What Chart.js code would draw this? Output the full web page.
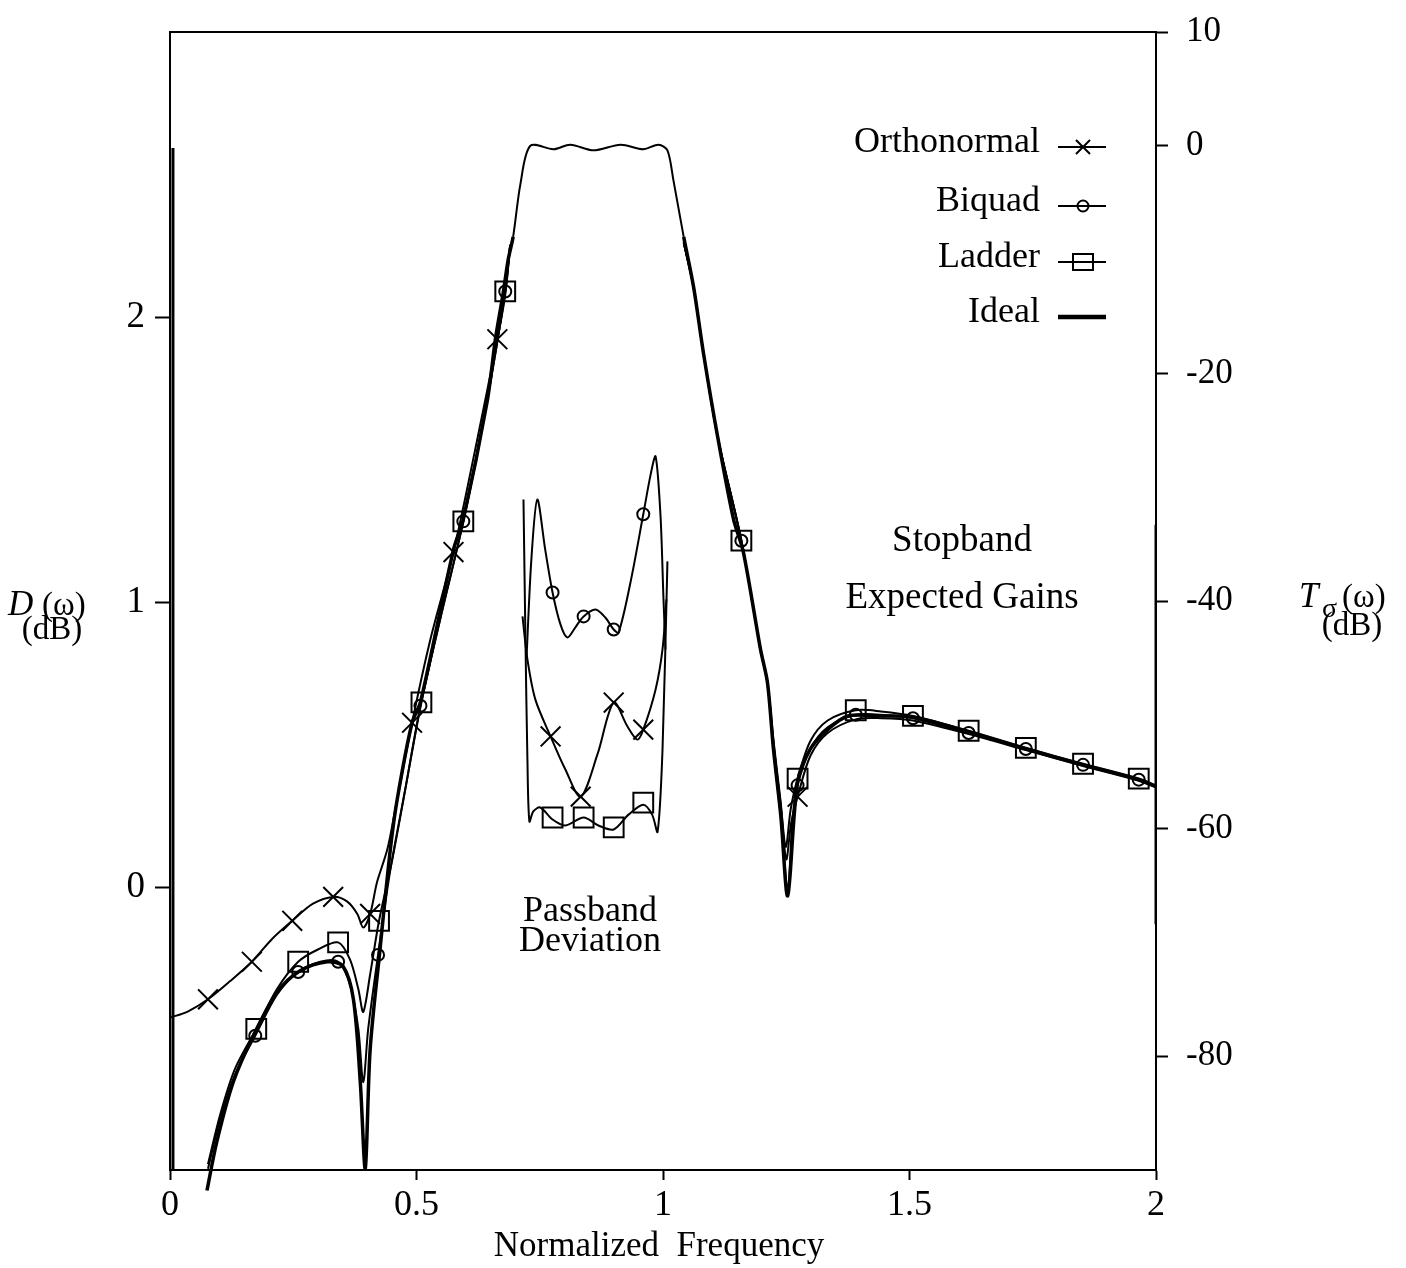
<!DOCTYPE html>
<html>
<head>
<meta charset="utf-8">
<title>Stopband Expected Gains / Passband Deviation</title>
<script src="https://cdn.jsdelivr.net/npm/chart.js@4/dist/chart.umd.min.js"></script>
<style>
  html, body { margin: 0; padding: 0; background: #fff; }
  #wrap { width: 1406px; height: 1268px; }
</style>
</head>
<body>
<div id="wrap"><canvas id="chart" width="1406" height="1268"></canvas></div>
<script>
// ---- data ----
// x: normalized frequency, stopband curves in dB on the right axis T(w)

const idealFreq = [0.075, 0.095, 0.128, 0.169, 0.217, 0.264, 0.319, 0.351, 0.372, 0.386, 0.396, 0.406, 0.426, 0.447, 0.461, 0.491, 0.508, 0.575, 0.595, 0.644, 0.660, 0.676, 0.686, 0.696, 0.711, 0.731, 0.778, 0.812, 0.859, 0.914, 0.960, 0.991, 1.009, 1.021, 1.042, 1.062, 1.082, 1.111, 1.143, 1.163, 1.198, 1.212, 1.224, 1.239, 1.253, 1.273, 1.299, 1.334, 1.375, 1.442, 1.507, 1.620, 1.736, 1.852, 1.965, 2.0];
const idealGain = [-91.8, -87.5, -82.3, -78.2, -74.4, -72.5, -71.7, -72.1, -75.0, -82.3, -89.9, -79.4, -70.6, -61.8, -57.4, -50.7, -48.9, -35.5, -32.8, -22.3, -17.0, -12.9, -10.0, -8.0, -3.3, 0, -0.3, 0.1, -0.4, 0.1, -0.3, 0.1, -0.4, -3.0, -8.0, -12.4, -18.2, -25.6, -32.8, -35.7, -44.3, -47.2, -53.0, -58.9, -65.9, -55.9, -53.0, -51.3, -50.1, -50.1, -50.2, -51.5, -53.0, -54.4, -55.7, -56.3];

// vertical strokes at the band edges x=0 and x=2
const edgeLeftFreq = [0.006, 0.006];
const edgeLeftGain = [-0.2, -90];
const edgeRightFreq = [2.0, 2.0];
const edgeRightGain = [-33.3, -68.4];

// Orthonormal
const orthoLowFreq = [0, 0.035, 0.077, 0.122, 0.166, 0.207, 0.248, 0.290, 0.331, 0.359, 0.380, 0.392, 0.406, 0.420, 0.441, 0.457, 0.491, 0.528, 0.575, 0.619, 0.664, 0.680, 0.690];
const orthoLowGain = [-76.6, -76.1, -75.0, -73.4, -71.7, -69.7, -68.1, -66.6, -66.0, -66.4, -67.5, -68.7, -67.5, -64.7, -61.8, -58.3, -50.7, -43.4, -35.7, -26.7, -17.0, -13.1, -8.7];
const orthoLowMarkFreq = [0.077, 0.166, 0.248, 0.331, 0.406, 0.491, 0.575, 0.664];
const orthoLowMarkGain = [-75.0, -71.7, -68.1, -66.0, -67.5, -50.7, -35.7, -17.0];
const orthoHighFreq = [1.042, 1.062, 1.082, 1.111, 1.159, 1.198, 1.212, 1.224, 1.239, 1.250, 1.260, 1.273, 1.299, 1.334, 1.391, 1.442, 1.507, 1.620, 1.736, 1.852, 1.965, 2.0];
const orthoHighGain = [-8.5, -12.4, -18.2, -25.6, -34.7, -44.3, -47.2, -52.6, -58.0, -62.7, -59.5, -57.2, -53.6, -51.6, -50.4, -50.3, -50.5, -51.7, -53.1, -54.5, -55.8, -56.4];
const orthoHighMarkFreq = [1.273];
const orthoHighMarkGain = [-57.2];

// Biquad
const biquadLowFreq = [0.077, 0.102, 0.132, 0.173, 0.217, 0.260, 0.305, 0.341, 0.365, 0.382, 0.392, 0.402, 0.422, 0.447, 0.477, 0.508, 0.548, 0.595, 0.640, 0.680, 0.690];
const biquadLowGain = [-89.9, -85.5, -81.6, -78.2, -74.6, -72.6, -71.7, -71.7, -73.7, -77.6, -82.3, -77.6, -71.1, -63.6, -56.6, -49.2, -41.6, -33.0, -23.2, -12.8, -8.7];
const biquadLowMarkFreq = [0.173, 0.260, 0.341, 0.422, 0.508, 0.595, 0.680];
const biquadLowMarkGain = [-78.2, -72.6, -71.7, -71.1, -49.2, -33.0, -12.8];
const biquadHighFreq = [1.042, 1.062, 1.082, 1.111, 1.159, 1.198, 1.212, 1.224, 1.239, 1.253, 1.263, 1.273, 1.299, 1.334, 1.391, 1.442, 1.507, 1.620, 1.736, 1.852, 1.965, 2.0];
const biquadHighGain = [-8.5, -12.4, -18.2, -25.6, -34.7, -44.3, -47.2, -53.0, -59.0, -65.3, -59.0, -56.2, -53.0, -51.1, -50.0, -50.0, -50.3, -51.6, -53.0, -54.4, -55.7, -56.3];

// Ladder
const ladderLowFreq = [0.077, 0.102, 0.132, 0.175, 0.217, 0.260, 0.301, 0.341, 0.365, 0.382, 0.392, 0.406, 0.424, 0.451, 0.477, 0.510, 0.548, 0.595, 0.640, 0.680, 0.690];
const ladderLowGain = [-89.5, -85.1, -81.1, -77.6, -74.1, -71.7, -70.6, -70.0, -71.5, -74.1, -76.1, -72.8, -68.1, -62.7, -56.6, -48.9, -41.6, -33.0, -23.2, -12.8, -8.7];
const ladderLowMarkFreq = [0.175, 0.260, 0.341, 0.424, 0.510, 0.595, 0.680];
const ladderLowMarkGain = [-77.6, -71.7, -70.0, -68.1, -48.9, -33.0, -12.8];
const ladderHighFreq = [1.042, 1.062, 1.082, 1.111, 1.159, 1.198, 1.212, 1.224, 1.238, 1.249, 1.259, 1.273, 1.299, 1.334, 1.391, 1.442, 1.507, 1.620, 1.736, 1.852, 1.965, 2.0];
const ladderHighGain = [-8.5, -12.4, -18.2, -25.6, -34.7, -44.3, -47.2, -52.2, -57.4, -61.6, -58.3, -55.6, -52.3, -50.5, -49.6, -49.7, -50.1, -51.4, -52.9, -54.3, -55.6, -56.2];

// markers shared by biquad and ladder in the upper stopband
const highMarkFreq = [1.159, 1.273, 1.391, 1.507, 1.620, 1.736, 1.852, 1.965];
const biquadHighMarkGain = [-34.7, -56.2, -50.0, -50.3, -51.6, -53.0, -54.4, -55.7];
const ladderHighMarkGain = [-34.7, -55.6, -49.6, -50.1, -51.4, -52.9, -54.3, -55.6];

// passband deviation D(w), dB on the left axis
const orthoDevFreq = [0.715, 0.725, 0.741, 0.772, 0.802, 0.833, 0.867, 0.900, 0.928, 0.948, 0.960, 0.985, 0.999, 1.007];
const orthoDevVal = [0.951, 0.800, 0.660, 0.530, 0.414, 0.319, 0.467, 0.649, 0.565, 0.519, 0.554, 0.695, 0.835, 1.011];
const orthoDevMarkFreq = [0.772, 0.833, 0.900, 0.960];
const orthoDevMarkVal = [0.530, 0.319, 0.649, 0.554];

const biquadDevFreq = [0.723, 0.733, 0.745, 0.761, 0.776, 0.792, 0.806, 0.822, 0.839, 0.863, 0.883, 0.900, 0.910, 0.934, 0.960, 0.975, 0.985, 0.995, 1.001, 1.005];
const biquadDevVal = [0.800, 1.151, 1.361, 1.186, 1.035, 0.923, 0.877, 0.912, 0.951, 0.975, 0.947, 0.905, 0.895, 1.070, 1.309, 1.449, 1.512, 1.302, 1.011, 0.835];
const biquadDevMarkFreq = [0.776, 0.839, 0.900, 0.960];
const biquadDevMarkVal = [1.035, 0.951, 0.905, 1.309];

const ladderDevFreq = [0.717, 0.721, 0.725, 0.729, 0.737, 0.751, 0.776, 0.802, 0.839, 0.869, 0.900, 0.930, 0.960, 0.978, 0.989, 0.999, 1.009];
const ladderDevVal = [1.361, 0.870, 0.449, 0.232, 0.267, 0.281, 0.239, 0.218, 0.246, 0.218, 0.204, 0.256, 0.291, 0.256, 0.196, 0.484, 1.144];
const ladderDevMarkFreq = [0.776, 0.839, 0.900, 0.960];
const ladderDevMarkVal = [0.246, 0.246, 0.211, 0.298];

const xTicks = [0, 0.5, 1, 1.5, 2];
const leftTicks = [0, 1, 2];
const rightTicks = [10, 0, -20, -40, -60, -80];

// ---- chart ----
const FONT = '"Liberation Serif", "Times New Roman", serif';
const pts = (xs, ys) => xs.map((x, i) => ({ x: x, y: ys[i] }));
const lowClip = { left: 4, top: 4, right: 4, bottom: 26 };

const curve = (xs, ys, axis, width, extra) => Object.assign({
    data: pts(xs, ys),
    yAxisID: axis,
    borderColor: '#000',
    borderWidth: width,
    pointRadius: 0,
    tension: 0.3,
    fill: false
}, extra || {});

const markers = (xs, ys, axis, style, radius) => ({
    data: pts(xs, ys),
    yAxisID: axis,
    showLine: false,
    pointStyle: style,
    pointRadius: radius,
    pointBorderColor: '#000',
    pointBackgroundColor: 'rgba(0,0,0,0)',
    pointBorderWidth: 2
});

const datasets = [
    curve(idealFreq, idealGain, 'y2', 3.5, {
        clip: lowClip,
        segment: { borderWidth: c => (c.p0.parsed.y > -8.2 && c.p1.parsed.y > -8.2) ? 2 : 3.5 }
    }),
    curve(edgeLeftFreq, edgeLeftGain, 'y2', 3, { tension: 0 }),
    curve(edgeRightFreq, edgeRightGain, 'y2', 3, { tension: 0 }),

    curve(orthoLowFreq, orthoLowGain, 'y2', 2),
    curve(orthoHighFreq, orthoHighGain, 'y2', 2),
    curve(orthoDevFreq, orthoDevVal, 'y', 2),
    markers(orthoLowMarkFreq, orthoLowMarkGain, 'y2', 'crossRot', 14),
    markers(orthoHighMarkFreq, orthoHighMarkGain, 'y2', 'crossRot', 14),
    markers(orthoDevMarkFreq, orthoDevMarkVal, 'y', 'crossRot', 14),

    curve(biquadLowFreq, biquadLowGain, 'y2', 2, { clip: lowClip }),
    curve(biquadHighFreq, biquadHighGain, 'y2', 2),
    curve(biquadDevFreq, biquadDevVal, 'y', 2),
    markers(biquadLowMarkFreq, biquadLowMarkGain, 'y2', 'circle', 6),
    markers(highMarkFreq, biquadHighMarkGain, 'y2', 'circle', 6),
    markers(biquadDevMarkFreq, biquadDevMarkVal, 'y', 'circle', 6),

    curve(ladderLowFreq, ladderLowGain, 'y2', 2, { clip: lowClip }),
    curve(ladderHighFreq, ladderHighGain, 'y2', 2),
    curve(ladderDevFreq, ladderDevVal, 'y', 2),
    markers(ladderLowMarkFreq, ladderLowMarkGain, 'y2', 'rect', 14),
    markers(highMarkFreq, ladderHighMarkGain, 'y2', 'rect', 14),
    markers(ladderDevMarkFreq, ladderDevMarkVal, 'y', 'rect', 14)
];

const legendRows = [
    { label: 'Orthonormal', mark: 'x', y: 147 },
    { label: 'Biquad', mark: 'o', y: 206 },
    { label: 'Ladder', mark: 's', y: 262 },
    { label: 'Ideal', mark: '', y: 317 }
];

// texts and legend drawn on the canvas
const figureText = {
    id: 'figureText',
    afterDraw(chart) {
        const ctx = chart.ctx;
        ctx.save();
        ctx.fillStyle = '#000';
        ctx.strokeStyle = '#000';
        ctx.textBaseline = 'middle';

        // legend
        legendRows.forEach(row => {
            ctx.font = '36px ' + FONT;
            ctx.textAlign = 'right';
            ctx.fillText(row.label, 1040, row.y - 4);
            const x0 = 1058, x1 = 1106, xm = 1083;
            ctx.lineWidth = row.mark ? 2 : 4.5;
            ctx.beginPath();
            ctx.moveTo(x0, row.y);
            ctx.lineTo(x1, row.y);
            ctx.stroke();
            ctx.lineWidth = 2;
            ctx.beginPath();
            if (row.mark === 'x') {
                ctx.moveTo(xm - 7, row.y - 7); ctx.lineTo(xm + 7, row.y + 7);
                ctx.moveTo(xm + 7, row.y - 7); ctx.lineTo(xm - 7, row.y + 7);
            } else if (row.mark === 'o') {
                ctx.arc(xm, row.y, 5.5, 0, Math.PI * 2);
            } else if (row.mark === 's') {
                ctx.rect(xm - 10, row.y - 8, 20, 16);
            }
            ctx.stroke();
        });

        // annotations
        ctx.textAlign = 'center';
        ctx.font = '36px ' + FONT;
        ctx.fillText('Passband', 590, 912);
        ctx.fillText('Deviation', 590, 942);
        ctx.font = '37px ' + FONT;
        ctx.fillText('Stopband', 962, 541);
        ctx.fillText('Expected Gains', 962, 598);

        // x axis title
        ctx.font = '35px ' + FONT;
        ctx.fillText('Normalized  Frequency', 659, 1247);

        // left axis title
        ctx.font = 'italic 35px ' + FONT;
        ctx.textAlign = 'left';
        ctx.fillText('D', 8, 606);
        ctx.font = '33px ' + FONT;
        ctx.fillText('(ω)', 42, 606);
        ctx.textAlign = 'center';
        ctx.fillText('(dB)', 52, 630);

        // right axis title
        ctx.textAlign = 'left';
        ctx.font = 'italic 35px ' + FONT;
        ctx.fillText('T', 1299, 598);
        ctx.font = '28px ' + FONT;
        ctx.fillText('σ', 1322, 610);
        ctx.font = '33px ' + FONT;
        ctx.fillText('(ω)', 1342, 598);
        ctx.textAlign = 'center';
        ctx.fillText('(dB)', 1352, 626);
        ctx.restore();
    }
};

const axisLine = { display: true, color: '#000', width: 2 };
const tickGrid = (len) => ({
    display: true,
    drawOnChartArea: false,
    drawTicks: true,
    tickLength: len,
    tickColor: '#000',
    tickWidth: 2,
    color: '#000'
});
const tickFont = (size) => ({ family: FONT, size: size, lineHeight: 1 });
const noOverflowV = s => { s.paddingTop = 0; s.paddingBottom = 0; };
const noOverflowH = s => { s.paddingLeft = 0; s.paddingRight = 0; };

new Chart(document.getElementById('chart'), {
    type: 'line',
    data: { datasets: datasets },
    options: {
        responsive: false,
        animation: false,
        layout: { padding: 0 },
        plugins: {
            legend: { display: false },
            tooltip: { enabled: false }
        },
        scales: {
            x: {
                type: 'linear',
                position: 'bottom',
                min: 0,
                max: 2,
                afterBuildTicks: s => { s.ticks = xTicks.map(v => ({ value: v })); },
                afterFit: s => { s.height = 98; noOverflowH(s); },
                ticks: { color: '#000', font: tickFont(36), padding: 8, maxRotation: 0, callback: v => String(v) },
                grid: tickGrid(10),
                border: axisLine
            },
            x2: {
                type: 'linear',
                position: 'top',
                min: 0,
                max: 2,
                afterFit: s => { s.height = 32; noOverflowH(s); },
                ticks: { display: false },
                grid: { display: true, drawOnChartArea: false, drawTicks: false },
                border: axisLine
            },
            y: {
                type: 'linear',
                position: 'left',
                min: -0.99,
                max: 3,
                afterBuildTicks: s => { s.ticks = leftTicks.map(v => ({ value: v })); },
                afterFit: s => { s.width = 170; noOverflowV(s); },
                ticks: { color: '#000', font: tickFont(37), padding: 10, callback: v => String(v) },
                grid: tickGrid(15),
                border: axisLine
            },
            y2: {
                type: 'linear',
                position: 'right',
                min: -90,
                max: 10,
                afterBuildTicks: s => { s.ticks = rightTicks.map(v => ({ value: v })); },
                afterFit: s => { s.width = 250; noOverflowV(s); },
                ticks: { color: '#000', font: tickFont(35), padding: 18, callback: v => String(v) },
                grid: tickGrid(12),
                border: axisLine
            }
        }
    },
    plugins: [figureText]
});
</script>
</body>
</html>
